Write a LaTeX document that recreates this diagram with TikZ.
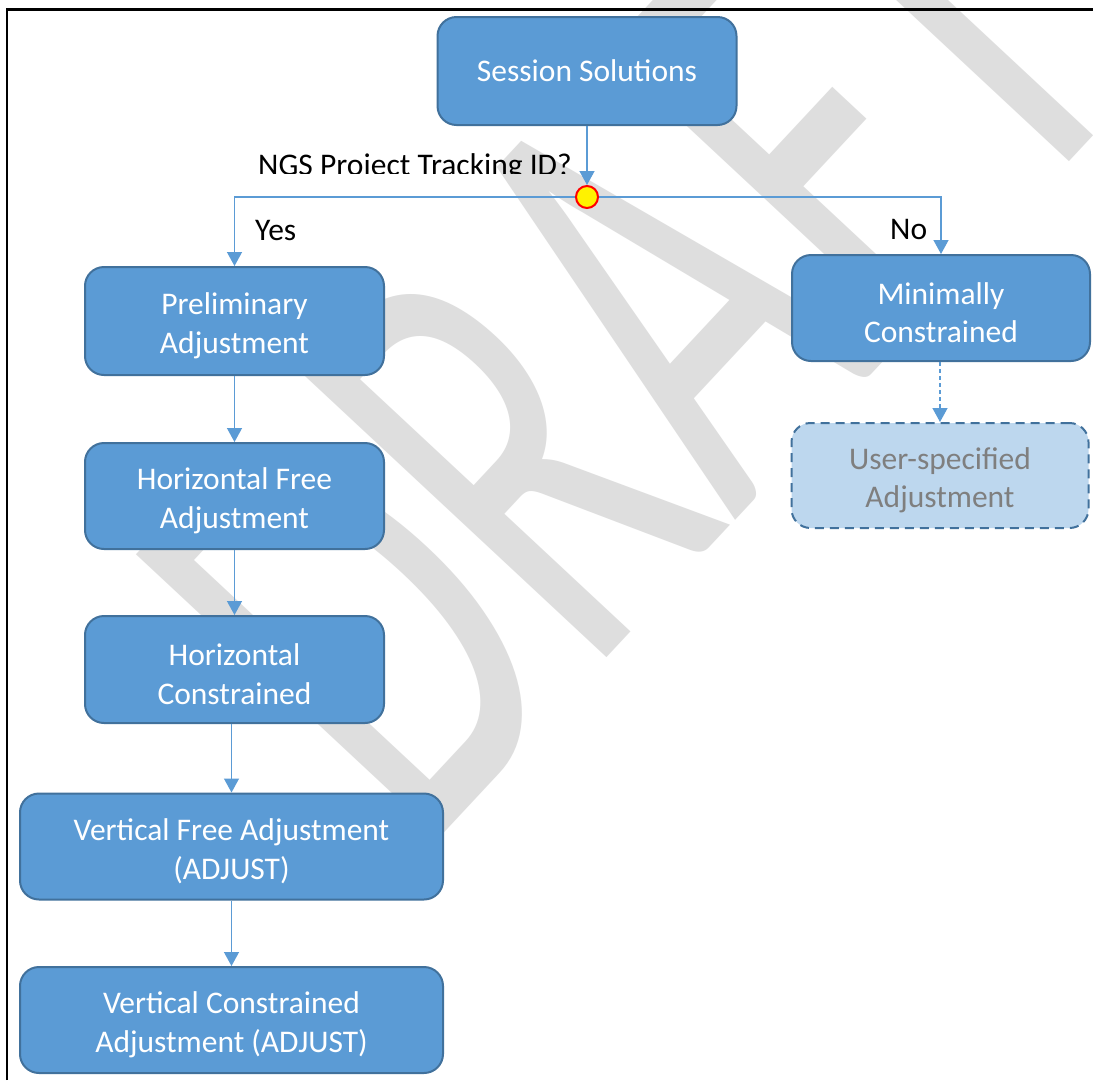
\documentclass[tikz,border=0pt]{standalone}
\usepackage{fontspec}
\usepackage{graphicx}
\setmainfont{Carlito}
\usetikzlibrary{arrows.meta}
\definecolor{boxfill}{HTML}{5B9BD5}
\definecolor{boxline}{HTML}{41719C}
\definecolor{userfill}{HTML}{BDD7EE}
\definecolor{usertext}{HTML}{7F7F7F}
\definecolor{wmgray}{HTML}{DEDEDE}
\newcommand\tpad{\rule{0pt}{31pt}}
\begin{document}
\begin{tikzpicture}[x=1pt,y=-1pt,
  box/.style={draw=boxline, fill=boxfill, line width=2pt, rounded corners=19pt,
    text=white, align=center, inner sep=0pt,
    font=\fontsize{31.5}{38.5}\selectfont},
  userbox/.style={box, fill=userfill, text=usertext, dash pattern=on 9pt off 6pt},
  lbl/.style={inner sep=0pt, anchor=base west, text=black,
    font=\fontsize{31.5}{38.5}\selectfont},
  conn/.style={draw=boxfill, line width=1.3pt,
    -{Triangle[width=15pt,length=14pt]}},
  junction/.style={circle, draw=red, fill=yellow, line width=2pt,
    minimum size=22pt, inner sep=0pt}
]
\useasboundingbox (0,0) rectangle (1093,1080);
\fill[white] (0,0) rectangle (1093,1080);

% watermark
\begin{scope}
\clip (0,0) rectangle (1093,1080);
\node[text=wmgray, inner sep=0pt, anchor=base west, rotate=47] (draft) at (421,857.5)
  {\resizebox{1065pt}{415pt}{\fontsize{400}{400}\selectfont DRAFT}};
\end{scope}

% frame
\draw[line width=2.5pt] (7,1080) -- (7,9.5) -- (1093,9.5);

% nodes
\node[box, minimum width=299pt, minimum height=108pt] (ss) at (587,71) {Session Solutions};

\node[box, minimum width=299pt, minimum height=108pt] (pa) at (234.5,321) {\tpad Preliminary\\Adjustment};
\node[box, minimum width=299pt, minimum height=106pt] (hf) at (234.5,496) {\tpad Horizontal Free\\Adjustment};
\node[box, minimum width=299pt, minimum height=107pt] (hc) at (234.5,669.5) {\tpad Horizontal\\Constrained};
\node[box, minimum width=423pt, minimum height=106pt] (vf) at (231.5,846.5) {\tpad Vertical Free Adjustment\\(ADJUST)};
\node[box, minimum width=423pt, minimum height=106pt] (vc) at (231.5,1020) {\tpad Vertical Constrained\\Adjustment (ADJUST)};

\node[box, minimum width=298pt, minimum height=106pt] (mc) at (941,308) {\tpad Minimally\\Constrained};
\node[userbox, minimum width=297pt, minimum height=105pt] (us) at (940,475.5) {\tpad User-specified\\Adjustment};

% labels
\begin{scope}
\clip (240,130) rectangle (600,173.5);
\node[lbl] (q) at (258,175) {NGS Project Tracking ID?};
\end{scope}
\node[lbl] (yes) at (255,240) {Yes};
\node[lbl] (no) at (890,239) {No};

% connectors
\coordinate (jc) at (587,197);
\draw[conn] (jc) -| (pa);
\draw[conn] (jc) -| (mc);
\node[junction] (j) at (jc) {};
\draw[conn] (ss) -- (j);
\draw[conn] (pa) -- (hf);
\draw[conn] (hf) -- (hc);
\draw[conn] (hc.south -| vf.north) -- (vf.north);
\draw[conn] (vf) -- (vc);
\draw[conn, dash pattern=on 4pt off 3pt] (mc.south -| us.north) -- (us.north);
\end{tikzpicture}
\end{document}
